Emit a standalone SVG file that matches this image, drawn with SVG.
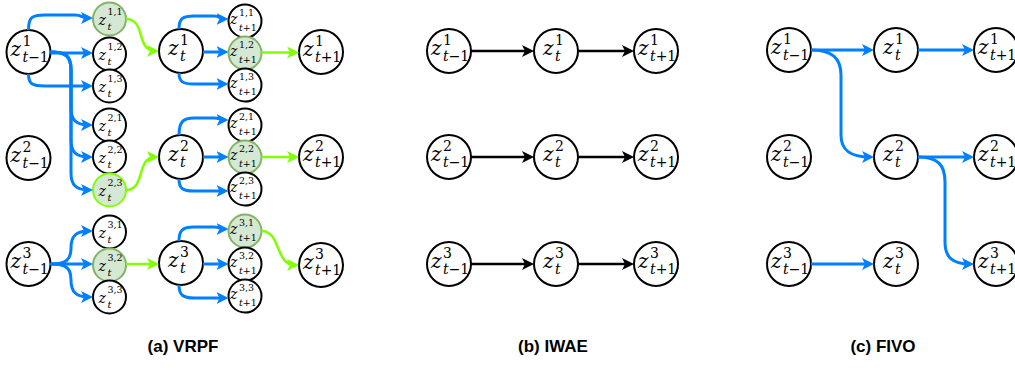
<svg xmlns="http://www.w3.org/2000/svg" width="1015" height="370" viewBox="0 0 1015 370">
<style>
text{font-family:"DejaVu Serif",serif;fill:#000}
.L{fill:#fff;stroke:#000;stroke-width:2}
.G{fill:#d5e8d4;stroke:#82b366;stroke-width:2}
.GL{fill:#d5e8d4;stroke:#80ff00;stroke-width:2}
.zL{font-size:20px;font-style:italic}
.sL{font-size:14px}
.zS{font-size:14px;font-style:italic}
.pS{font-size:9.5px}
.bS{font-size:10px}
.bT{font-size:9.5px}
.i{font-style:italic}
.e{fill:none;stroke:#007fff;stroke-width:3}
.eg{fill:none;stroke:#80ff00;stroke-width:2.5}
.ek{fill:none;stroke:#000;stroke-width:2.5}
.e{marker-end:url(#ab)}
.eg{marker-end:url(#ag)}
.ek{marker-end:url(#ak)}
.cap{font-family:"Liberation Sans",Arial,sans-serif;font-weight:bold;font-size:17px;text-anchor:middle}
</style>
<defs>
<marker id="ab" markerUnits="userSpaceOnUse" viewBox="0 0 12 12" markerWidth="12" markerHeight="12" refX="8" refY="6" orient="auto"><path d="M0,0 L12,6 L0,12 L3,6 Z" fill="#007fff"/></marker>
<marker id="ag" markerUnits="userSpaceOnUse" viewBox="0 0 12 12" markerWidth="12" markerHeight="12" refX="8" refY="6" orient="auto"><path d="M0,0 L12,6 L0,12 L3,6 Z" fill="#80ff00"/></marker>
<marker id="ak" markerUnits="userSpaceOnUse" viewBox="0 0 12 12" markerWidth="12" markerHeight="12" refX="8" refY="6" orient="auto"><path d="M0,0 L12,6 L0,12 L3,6 Z" fill="#000"/></marker>
</defs>

<!-- Panel (a) nodes -->
<g id="a-z1-tm1"><circle class="L" cx="28.5" cy="52" r="22"/><text class="zL" x="10.5" y="56">z</text><text class="sL" x="22.5" y="46">1</text><text class="sL" x="22.5" y="62"><tspan class="i">t</tspan>−1</text></g>
<g id="a-z2-tm1"><circle class="L" cx="28.5" cy="158" r="22"/><text class="zL" x="10.5" y="162">z</text><text class="sL" x="22.5" y="152">2</text><text class="sL" x="22.5" y="168"><tspan class="i">t</tspan>−1</text></g>
<g id="a-z3-tm1"><circle class="L" cx="28.5" cy="264" r="22"/><text class="zL" x="10.5" y="268">z</text><text class="sL" x="22.5" y="258">3</text><text class="sL" x="22.5" y="274"><tspan class="i">t</tspan>−1</text></g>

<g id="a-z11-t"><circle class="G" cx="109.5" cy="19" r="16.5"/><text class="zS" x="98.5" y="25">z</text><text class="pS" x="107.5" y="15">1,1</text><text class="bS i" x="107.5" y="30">t</text></g>
<g id="a-z12-t"><circle class="L" cx="109.5" cy="54" r="16.5"/><text class="zS" x="98.5" y="60">z</text><text class="pS" x="107.5" y="50">1,2</text><text class="bS i" x="107.5" y="65">t</text></g>
<g id="a-z13-t"><circle class="L" cx="109.5" cy="86" r="16.5"/><text class="zS" x="98.5" y="92">z</text><text class="pS" x="107.5" y="82">1,3</text><text class="bS i" x="107.5" y="97">t</text></g>
<g id="a-z21-t"><circle class="L" cx="109.5" cy="125" r="16.5"/><text class="zS" x="98.5" y="131">z</text><text class="pS" x="107.5" y="121">2,1</text><text class="bS i" x="107.5" y="136">t</text></g>
<g id="a-z22-t"><circle class="L" cx="109.5" cy="157" r="16.5"/><text class="zS" x="98.5" y="163">z</text><text class="pS" x="107.5" y="153">2,2</text><text class="bS i" x="107.5" y="168">t</text></g>
<g id="a-z23-t"><circle class="GL" cx="109.5" cy="190" r="16.5"/><text class="zS" x="98.5" y="196">z</text><text class="pS" x="107.5" y="186">2,3</text><text class="bS i" x="107.5" y="201">t</text></g>
<g id="a-z31-t"><circle class="L" cx="109.5" cy="232" r="16.5"/><text class="zS" x="98.5" y="238">z</text><text class="pS" x="107.5" y="228">3,1</text><text class="bS i" x="107.5" y="243">t</text></g>
<g id="a-z32-t"><circle class="G" cx="109.5" cy="265" r="16.5"/><text class="zS" x="98.5" y="271">z</text><text class="pS" x="107.5" y="261">3,2</text><text class="bS i" x="107.5" y="276">t</text></g>
<g id="a-z33-t"><circle class="L" cx="109.5" cy="297" r="16.5"/><text class="zS" x="98.5" y="303">z</text><text class="pS" x="107.5" y="293">3,3</text><text class="bS i" x="107.5" y="308">t</text></g>

<g id="a-z1-t"><circle class="L" cx="181" cy="51" r="22"/><text class="zL" x="168" y="55">z</text><text class="sL" x="180" y="45">1</text><text class="sL i" x="180" y="61">t</text></g>
<g id="a-z2-t"><circle class="L" cx="181" cy="157" r="22"/><text class="zL" x="168" y="161">z</text><text class="sL" x="180" y="151">2</text><text class="sL i" x="180" y="167">t</text></g>
<g id="a-z3-t"><circle class="L" cx="181" cy="263" r="22"/><text class="zL" x="168" y="267">z</text><text class="sL" x="180" y="257">3</text><text class="sL i" x="180" y="273">t</text></g>

<g id="a-z11-tp1"><circle class="L" cx="245" cy="21" r="16.5"/><text class="zS" x="230" y="24">z</text><text class="pS" x="239" y="16">1,1</text><text class="bT" x="239" y="31"><tspan class="i">t</tspan>+1</text></g>
<g id="a-z12-tp1"><circle class="G" cx="245" cy="53" r="16.5"/><text class="zS" x="230" y="56">z</text><text class="pS" x="239" y="48">1,2</text><text class="bT" x="239" y="63"><tspan class="i">t</tspan>+1</text></g>
<g id="a-z13-tp1"><circle class="L" cx="245" cy="85" r="16.5"/><text class="zS" x="230" y="88">z</text><text class="pS" x="239" y="80">1,3</text><text class="bT" x="239" y="95"><tspan class="i">t</tspan>+1</text></g>
<g id="a-z21-tp1"><circle class="L" cx="245" cy="125" r="16.5"/><text class="zS" x="230" y="128">z</text><text class="pS" x="239" y="120">2,1</text><text class="bT" x="239" y="135"><tspan class="i">t</tspan>+1</text></g>
<g id="a-z22-tp1"><circle class="G" cx="245" cy="157" r="16.5"/><text class="zS" x="230" y="160">z</text><text class="pS" x="239" y="152">2,2</text><text class="bT" x="239" y="167"><tspan class="i">t</tspan>+1</text></g>
<g id="a-z23-tp1"><circle class="L" cx="245" cy="189" r="16.5"/><text class="zS" x="230" y="192">z</text><text class="pS" x="239" y="184">2,3</text><text class="bT" x="239" y="199"><tspan class="i">t</tspan>+1</text></g>
<g id="a-z31-tp1"><circle class="G" cx="245" cy="231" r="16.5"/><text class="zS" x="230" y="234">z</text><text class="pS" x="239" y="226">3,1</text><text class="bT" x="239" y="241"><tspan class="i">t</tspan>+1</text></g>
<g id="a-z32-tp1"><circle class="L" cx="245" cy="264" r="16.5"/><text class="zS" x="230" y="267">z</text><text class="pS" x="239" y="259">3,2</text><text class="bT" x="239" y="274"><tspan class="i">t</tspan>+1</text></g>
<g id="a-z33-tp1"><circle class="L" cx="245" cy="296" r="16.5"/><text class="zS" x="230" y="299">z</text><text class="pS" x="239" y="291">3,3</text><text class="bT" x="239" y="306"><tspan class="i">t</tspan>+1</text></g>

<g id="a-z1-tp1"><circle class="L" cx="321" cy="52" r="22"/><text class="zL" x="303" y="56">z</text><text class="sL" x="315" y="46">1</text><text class="sL" x="315" y="62"><tspan class="i">t</tspan>+1</text></g>
<g id="a-z2-tp1"><circle class="L" cx="321" cy="157" r="22"/><text class="zL" x="303" y="161">z</text><text class="sL" x="315" y="151">2</text><text class="sL" x="315" y="167"><tspan class="i">t</tspan>+1</text></g>
<g id="a-z3-tp1"><circle class="L" cx="321" cy="265" r="22"/><text class="zL" x="303" y="269">z</text><text class="sL" x="315" y="259">3</text><text class="sL" x="315" y="275"><tspan class="i">t</tspan>+1</text></g>

<!-- Panel (b) nodes -->
<g id="b-z1-tm1"><circle class="L" cx="449" cy="51" r="22"/><text class="zL" x="431" y="55">z</text><text class="sL" x="443" y="45">1</text><text class="sL" x="443" y="61"><tspan class="i">t</tspan>−1</text></g>
<g id="b-z2-tm1"><circle class="L" cx="449" cy="157" r="22"/><text class="zL" x="431" y="161">z</text><text class="sL" x="443" y="151">2</text><text class="sL" x="443" y="167"><tspan class="i">t</tspan>−1</text></g>
<g id="b-z3-tm1"><circle class="L" cx="449" cy="264" r="22"/><text class="zL" x="431" y="268">z</text><text class="sL" x="443" y="258">3</text><text class="sL" x="443" y="274"><tspan class="i">t</tspan>−1</text></g>
<g id="b-z1-t"><circle class="L" cx="556" cy="51" r="22"/><text class="zL" x="543" y="55">z</text><text class="sL" x="555" y="45">1</text><text class="sL i" x="555" y="61">t</text></g>
<g id="b-z2-t"><circle class="L" cx="556" cy="157" r="22"/><text class="zL" x="543" y="161">z</text><text class="sL" x="555" y="151">2</text><text class="sL i" x="555" y="167">t</text></g>
<g id="b-z3-t"><circle class="L" cx="556" cy="264" r="22"/><text class="zL" x="543" y="268">z</text><text class="sL" x="555" y="258">3</text><text class="sL i" x="555" y="274">t</text></g>
<g id="b-z1-tp1"><circle class="L" cx="656" cy="51" r="22"/><text class="zL" x="638" y="55">z</text><text class="sL" x="650" y="45">1</text><text class="sL" x="650" y="61"><tspan class="i">t</tspan>+1</text></g>
<g id="b-z2-tp1"><circle class="L" cx="656" cy="157" r="22"/><text class="zL" x="638" y="161">z</text><text class="sL" x="650" y="151">2</text><text class="sL" x="650" y="167"><tspan class="i">t</tspan>+1</text></g>
<g id="b-z3-tp1"><circle class="L" cx="656" cy="264" r="22"/><text class="zL" x="638" y="268">z</text><text class="sL" x="650" y="258">3</text><text class="sL" x="650" y="274"><tspan class="i">t</tspan>+1</text></g>

<!-- Panel (c) nodes -->
<g id="c-z1-tm1"><circle class="L" cx="789" cy="50" r="22"/><text class="zL" x="771" y="54">z</text><text class="sL" x="783" y="44">1</text><text class="sL" x="783" y="60"><tspan class="i">t</tspan>−1</text></g>
<g id="c-z2-tm1"><circle class="L" cx="789" cy="157" r="22"/><text class="zL" x="771" y="161">z</text><text class="sL" x="783" y="151">2</text><text class="sL" x="783" y="167"><tspan class="i">t</tspan>−1</text></g>
<g id="c-z3-tm1"><circle class="L" cx="789" cy="264" r="22"/><text class="zL" x="771" y="268">z</text><text class="sL" x="783" y="258">3</text><text class="sL" x="783" y="274"><tspan class="i">t</tspan>−1</text></g>
<g id="c-z1-t"><circle class="L" cx="896" cy="50" r="22"/><text class="zL" x="883" y="54">z</text><text class="sL" x="895" y="44">1</text><text class="sL i" x="895" y="60">t</text></g>
<g id="c-z2-t"><circle class="L" cx="896" cy="157" r="22"/><text class="zL" x="883" y="161">z</text><text class="sL" x="895" y="151">2</text><text class="sL i" x="895" y="167">t</text></g>
<g id="c-z3-t"><circle class="L" cx="896" cy="264" r="22"/><text class="zL" x="883" y="268">z</text><text class="sL" x="895" y="258">3</text><text class="sL i" x="895" y="274">t</text></g>
<g id="c-z1-tp1"><circle class="L" cx="996" cy="50" r="22"/><text class="zL" x="978" y="54">z</text><text class="sL" x="990" y="44">1</text><text class="sL" x="990" y="60"><tspan class="i">t</tspan>+1</text></g>
<g id="c-z2-tp1"><circle class="L" cx="996" cy="157" r="22"/><text class="zL" x="978" y="161">z</text><text class="sL" x="990" y="151">2</text><text class="sL" x="990" y="167"><tspan class="i">t</tspan>+1</text></g>
<g id="c-z3-tp1"><circle class="L" cx="996" cy="264" r="22"/><text class="zL" x="978" y="268">z</text><text class="sL" x="990" y="258">3</text><text class="sL" x="990" y="274"><tspan class="i">t</tspan>+1</text></g>

<!-- Connectors -->
<g id="connectors">
<!-- (a) row 1 -->
<path class="e" d="M28.5,30 C28.5,17 32,15 45,15 L75,15 C82,15 82,18 89,18"/>
<path class="e" d="M50.5,53 L89,53"/>
<path class="e" d="M28.5,74 C28.5,84 32,86 45,86 L89,86"/>
<path class="e" d="M50.5,52 C66,52 71,56 71,70 L71,108 C71,120 76,125 89,125"/>
<path class="e" d="M50.5,52 C66,52 71,56 71,70 L71,140 C71,152 76,157 89,157"/>
<path class="e" d="M50.5,52 C66,52 71,56 71,70 L71,173 C71,185 76,190 89,190"/>
<path class="eg" d="M126,19 C146,19 136,51 155,51"/>
<path class="e" d="M179,29 C179,18 183,16 194,16 L214,16 C220,16 220,19 224.5,19"/>
<path class="e" d="M203,52 L224.5,52"/>
<path class="e" d="M179,73 C179,82 183,84 194,84 L224.5,84"/>
<path class="eg" d="M261.5,52.5 L295,52.5"/>
<!-- (a) row 2 -->
<path class="eg" d="M126,190 C146,190 136,157 155,157"/>
<path class="e" d="M179,135 C179,122 183,118 194,118 L214,118 C220,118 220,120 224.5,120"/>
<path class="e" d="M203,157 L224.5,157"/>
<path class="e" d="M179,179 C179,189 183,191 194,191 L224.5,191"/>
<path class="eg" d="M261.5,157 L295,157"/>
<!-- (a) row 3 -->
<path class="e" d="M50.5,264 C66,264 71,260 71,248 C71,236 76,231 89,231"/>
<path class="e" d="M50.5,264 L89,264"/>
<path class="e" d="M50.5,264 C66,264 71,268 71,280 C71,292 76,297 89,297"/>
<path class="eg" d="M126,264 L155,264"/>
<path class="e" d="M179,241 C179,230 183,227 194,227 L214,227 C220,227 220,229 224.5,229"/>
<path class="e" d="M203,264 L224.5,264"/>
<path class="e" d="M179,285 C179,295 183,298 194,298 L224.5,298"/>
<path class="eg" d="M261.5,231 C281,231 275,265 295,265"/>
<!-- (b) -->
<path class="ek" d="M471,51 L530,51"/>
<path class="ek" d="M578,51 L630,51"/>
<path class="ek" d="M471,157 L530,157"/>
<path class="ek" d="M578,157 L630,157"/>
<path class="ek" d="M471,264 L530,264"/>
<path class="ek" d="M578,264 L630,264"/>
<!-- (c) -->
<path class="e" d="M811,50 L870,50"/>
<path class="e" d="M918,50 L970,50"/>
<path class="e" d="M811,50 C832,50 841,58 841,75 L841,135 C841,150 850,157 870,157"/>
<path class="e" d="M918,157 L970,157"/>
<path class="e" d="M918,157 C938,157 945,165 945,182 L945,242 C945,257 952,264 970,264"/>
<path class="e" d="M811,264 L870,264"/>
</g>

<text class="cap" x="183" y="352">(a) VRPF</text>
<text class="cap" x="553" y="352">(b) IWAE</text>
<text class="cap" x="883" y="352">(c) FIVO</text>
</svg>
